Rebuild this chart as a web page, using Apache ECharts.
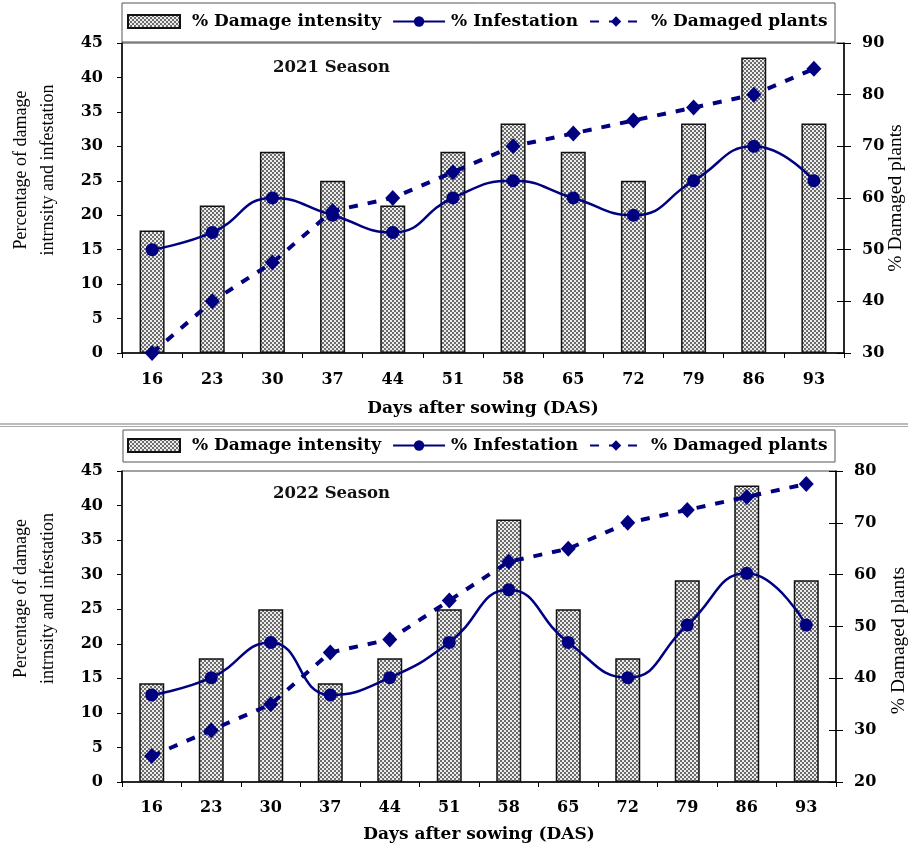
<!DOCTYPE html>
<html><head><meta charset="utf-8">
<script src="https://cdn.jsdelivr.net/npm/echarts@6/dist/echarts.min.js"></script>
<style>html,body{margin:0;padding:0;background:#fff}#c{width:908px;height:847px}</style>
</head><body><div id="c"></div>
<script>
// ---- data ----
const das = ['16','23','30','37','44','51','58','65','72','79','86','93'];
const intensity2021 = [17.8,21.4,29.2,25,21.4,29.2,33.3,29.2,25,33.3,42.9,33.3];
const infest2021    = [15,17.5,22.5,20,17.5,22.5,25,22.5,20,25,30,25];
const damaged2021   = [30,40,47.5,57.5,60,65,70,72.5,75,77.5,80,85];
const intensity2022 = [14.3,17.9,25,14.3,17.9,25,38,25,17.9,29.2,42.9,29.2];
const infest2022    = [12.6,15.1,20.2,12.6,15.1,20.2,27.8,20.2,15.1,22.7,30.2,22.7];
const damaged2022   = [25,30,35,45,47.5,55,62.5,65,70,72.5,75,77.5];
const seasons = ['2021 Season','2022 Season'];
const names = ['% Damage intensity','% Infestation','% Damaged plants'];
const leftRange = [0,45,5];
const rightRange2021 = [30,90,10];
const rightRange2022 = [20,80,10];

// ---- pattern ----
const pc = document.createElement('canvas');
pc.width = 4; pc.height = 4;
const px = pc.getContext('2d');
px.fillStyle = '#ececec'; px.fillRect(0,0,4,4);
px.fillStyle = '#6c6c6c'; px.fillRect(0,0,2,2); px.fillRect(2,2,2,2);
const pattern = {image: pc, repeat: 'repeat'};

const navy = '#000080';
const lblFont = {fontFamily:'DejaVu Serif', fontWeight:'bold', fontSize:16, color:'#000'};
const grids = [
  {left:122, right:64, top:43, height:310},
  {left:122, right:72, top:471, height:311}
];
const chart = echarts.init(document.getElementById('c'));

function xAx(i, margin, gap){
  return {type:'category', gridIndex:i, data:das, boundaryGap:true,
    axisLine:{lineStyle:{color:'#000', width:1.5}},
    axisTick:{show:true, interval:0, length:5, lineStyle:{color:'#000'}},
    axisLabel:Object.assign({interval:0, margin:margin}, lblFont),
    name:'Days after sowing (DAS)', nameLocation:'middle', nameGap:gap,
    nameTextStyle:{fontFamily:'DejaVu Serif', fontWeight:'bold', fontSize:17, color:'#000'},
    splitLine:{show:false}};
}
function leftAx(i){
  return {type:'value', gridIndex:i, position:'left', min:leftRange[0], max:leftRange[1], interval:leftRange[2],
    axisLine:{show:true, lineStyle:{color:'#000', width:1.5}},
    axisTick:{show:true, length:5, lineStyle:{color:'#000'}},
    axisLabel:Object.assign({margin:19}, lblFont),
    splitLine:{show:false},
    name:'Percentage of damage\nintrnsity and infestation', nameLocation:'middle', nameGap:60, nameRotate:90,
    nameTextStyle:{fontFamily:'Liberation Serif', fontSize:18, lineHeight:27, color:'#000', padding:[0,0,0,56]}};
}
function rightAx(i, r, gap, pad){
  return {type:'value', gridIndex:i, position:'right', min:r[0], max:r[1], interval:r[2],
    axisLine:{show:true, lineStyle:{color:'#000', width:1.5}},
    axisTick:{show:true, length:7, lineStyle:{color:'#000'}},
    axisLabel:Object.assign({margin:18}, lblFont),
    splitLine:{show:false},
    name:'% Damaged plants', nameLocation:'middle', nameGap:gap, nameRotate:90, nameMoveOverlap:false,
    nameTextStyle:{fontFamily:'Liberation Serif', fontSize:19.5, color:'#000', padding:pad}};
}
function rightDup(i, r){
  return {type:'value', gridIndex:i, position:'right', min:r[0], max:r[1], interval:r[2],
    axisLine:{show:false}, axisLabel:{show:false}, splitLine:{show:false},
    axisTick:{show:true, inside:true, length:7, lineStyle:{color:'#000'}}};
}
function seriesFor(i, bars, inf, dmg){
  const L = i*2, R = i*2+1;
  return [
    {name:names[0], type:'bar', xAxisIndex:i, yAxisIndex:L, data:bars, barWidth:25,
     itemStyle:{color:pattern, borderColor:'#111', borderWidth:1.5}, z:2},
    {name:names[1], type:'line', xAxisIndex:i, yAxisIndex:L, data:inf, smooth:0.5,
     symbol:'circle', symbolSize:13, itemStyle:{color:navy},
     lineStyle:{color:navy, width:2.5}, z:3},
    {name:names[2], type:'line', xAxisIndex:i, yAxisIndex:R, data:dmg,
     symbol:'diamond', symbolSize:[15,16], itemStyle:{color:navy},
     lineStyle:{color:navy, width:4, type:[9,10], cap:'butt'}, z:4}
  ];
}
function legendFor(top){
  const ts = {fontFamily:'DejaVu Serif', fontWeight:'bold', fontSize:17, color:'#000'};
  return {left:122, top:top, itemWidth:52, itemHeight:13, itemGap:11, padding:[0,0,0,5],
    data:[{name:names[0], icon:'rect', textStyle:Object.assign({padding:[0,0,0,7]}, ts)},
          {name:names[1], textStyle:Object.assign({padding:[0,0,0,1]}, ts)},
          {name:names[2], textStyle:Object.assign({padding:[0,0,0,4]}, ts)}],
    textStyle:ts};
}

chart.setOption({
  animation:false,
  backgroundColor:'#fff',
  title: seasons.map((s,i)=>({text:s, left:268, top: i===0 ? 54 : 480,
    textStyle:{fontFamily:'DejaVu Serif', fontWeight:'bold', fontSize:16.5, color:'#111'}})),
  legend:[legendFor(13), legendFor(437)],
  grid: grids.map(g=>Object.assign({show:true, borderColor:'#444', borderWidth:1, backgroundColor:'transparent',
    containLabel:false, outerBoundsMode:'none'}, g)),
  xAxis:[xAx(0,19,47), xAx(1,18,44)],
  yAxis:[leftAx(0), rightAx(0, rightRange2021, 42, [0,0,0,0]), leftAx(1), rightAx(1, rightRange2022, 53, [0,28,0,0]),
         rightDup(0, rightRange2021), rightDup(1, rightRange2022)],
  series:[].concat(seriesFor(0, intensity2021, infest2021, damaged2021),
                   seriesFor(1, intensity2022, infest2022, damaged2022)),
  graphic:[
    {type:'rect', shape:{x:122, y:3, width:713, height:39}, style:{fill:'none', stroke:'#555', lineWidth:1}, silent:true},
    {type:'rect', shape:{x:123, y:430, width:712, height:32}, style:{fill:'none', stroke:'#555', lineWidth:1}, silent:true},
    {type:'line', shape:{x1:0, y1:424, x2:908, y2:424}, style:{stroke:'#777', lineWidth:1}, silent:true},
    {type:'line', shape:{x1:0, y1:426.5, x2:908, y2:426.5}, style:{stroke:'#aaa', lineWidth:1}, silent:true}
  ]
});
</script>
</body></html>
